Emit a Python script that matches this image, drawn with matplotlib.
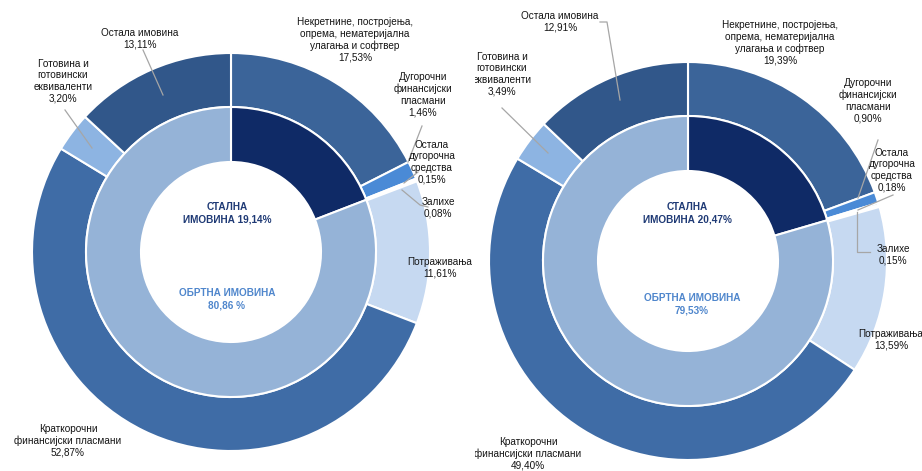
import matplotlib.pyplot as plt

# ---- data ----
outer_names = [
    'Некретнине, постројења,\nопрема, нематеријална\nулагања и софтвер',
    'Дугорочни\nфинансијски\nпласмани',
    'Остала\nдугорочна\nсредства',
    'Залихе',
    'Потраживања',
    'Краткорочни\nфинансијски пласмани',
    'Готовина и\nготовински\nеквиваленти',
    'Остала имовина',
]
inner_names = ['СТАЛНА\nИМОВИНА', 'ОБРТНА ИМОВИНА\n']

left_inner = [19.14, 80.86]
left_outer = [17.53, 1.46, 0.15, 0.08, 11.61, 52.87, 3.20, 13.11]
right_inner = [20.47, 79.53]
right_outer = [19.39, 0.90, 0.18, 0.15, 13.59, 49.40, 3.49, 12.91]

# ---- style ----
outer_colors = ['#3b6499', '#4a8ad6', '#5b93d6', '#dfe9f6', '#c6d9f1',
                '#3f6ca6', '#8db4e2', '#31578a']
inner_colors = ['#0f2a66', '#95b3d7']

W, H = 922, 471
plt.rcParams['font.family'] = ['Liberation Sans Narrow', 'Liberation Sans', 'DejaVu Sans']

fig = plt.figure(figsize=(W / 100, H / 100), dpi=100)


def fmt(v):
    return f'{v:.2f}'.replace('.', ',')


def donut(x0, x1, cx, cy, inner, outer, label_pos, leaders, inner_pos, obrtna_sep):
    ax = fig.add_axes([x0 / W, 0, (x1 - x0) / W, 1])
    R = 199
    wp = dict(edgecolor='white', linewidth=1.5)
    # y axis is inverted below, so counterclock=True reads clockwise on screen
    ax.pie(outer, radius=R, center=(cx, cy), startangle=-90, counterclock=True,
           colors=outer_colors, wedgeprops=dict(width=54, **wp), frame=True)
    ax.pie(inner, radius=145, center=(cx, cy), startangle=-90, counterclock=True,
           colors=inner_colors, wedgeprops=dict(width=55, **wp), frame=True)
    ax.set_xlim(x0, x1)
    ax.set_ylim(H, 0)
    ax.set_aspect('auto')
    ax.axis('off')

    for name, v, (tx, ty) in zip(outer_names, outer, label_pos):
        ax.text(tx, ty, f'{name}\n{fmt(v)}%', ha='center', va='center',
                fontsize=7.2, color='#141414', linespacing=1.2, clip_on=True)
    for pts in leaders:
        xs, ys = zip(*pts)
        ax.plot(xs, ys, color='#a6a6a6', lw=0.9)

    (sx, sy), (ox, oy) = inner_pos
    ax.text(sx, sy, f'{inner_names[0]} {fmt(inner[0])}%', ha='center', va='center',
            fontsize=7.2, fontweight='bold', color='#1f3a75', linespacing=1.35)
    ax.text(ox, oy, f'{inner_names[1].strip()}\n{fmt(inner[1])}{obrtna_sep}%',
            ha='center', va='center', fontsize=7.2, fontweight='bold',
            color='#4f86cc', linespacing=1.35)


left_labels = [(355, 40), (423, 95), (432, 162), (438, 208), (440, 268),
               (68, 441), (63, 81), (140, 39)]
left_leaders = [
    [(143, 50), (163, 95)],
    [(65, 110), (92, 148)],
    [(422, 126), (408, 162)],
    [(418, 172), (404, 183)],
    [(402, 190), (420, 205), (428, 207)],
]
donut(0, 475, 231, 252, left_inner, left_outer, left_labels, left_leaders,
      [(227, 213), (227, 299)], ' ')

right_labels = [(780, 43), (868, 101), (892, 170), (893, 255), (891, 340),
                (528, 454), (502, 74), (560, 22)]
right_leaders = [
    [(600, 22), (607, 22), (620, 100)],
    [(502, 108), (548, 153)],
    [(878, 140), (858, 198)],
    [(893, 195), (858, 210)],
    [(857, 212), (857, 252), (870, 252)],
]
donut(475, 922, 688, 261, right_inner, right_outer, right_labels, right_leaders,
      [(687, 213), (692, 304)], '')

fig.savefig('out.png', dpi=100)
